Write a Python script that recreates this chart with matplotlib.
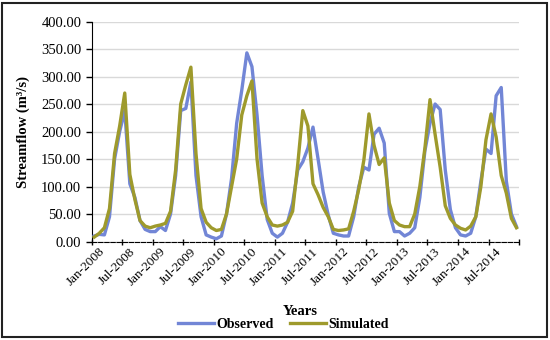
import numpy as np
import matplotlib.pyplot as plt
from matplotlib.transforms import ScaledTranslation
from matplotlib.patches import Rectangle

# monthly streamflow, Jan-2008 .. Dec-2014
observed = [10, 13, 12, 45, 150, 200, 238, 105, 80, 38, 22, 18,
            18, 27, 20, 50, 120, 238, 242, 290, 120, 45, 12, 8,
            5, 10, 50, 115, 215, 275, 343, 318, 230, 120, 40, 15,
            8, 15, 35, 70, 130, 145, 170, 208, 150, 90, 48, 15,
            12, 10, 10, 45, 100, 135, 130, 195, 206, 179, 51, 18,
            18, 10, 15, 25, 80, 165, 215, 250, 240, 130, 58, 25,
            12, 10, 15, 45, 110, 168, 160, 265, 280, 110, 50, 27]
simulated = [8, 15, 25, 60, 160, 210, 270, 122, 76, 38, 28, 25,
             28, 30, 33, 55, 130, 250, 285, 317, 160, 60, 35, 25,
             20, 22, 50, 100, 150, 230, 265, 292, 150, 70, 45, 30,
             28, 30, 35, 55, 140, 238, 210, 105, 85, 62, 45, 22,
             20, 21, 23, 55, 95, 148, 232, 175, 140, 152, 70, 38,
             30, 27, 27, 50, 100, 170, 258, 195, 135, 65, 42, 30,
             24, 21, 28, 45, 100, 185, 232, 190, 120, 88, 42, 25]
tick_labels = ["Jan-2008", "Jul-2008", "Jan-2009", "Jul-2009", "Jan-2010",
               "Jul-2010", "Jan-2011", "Jul-2011", "Jan-2012", "Jul-2012",
               "Jan-2013", "Jul-2013", "Jan-2014", "Jul-2014"]

plt.rcParams['font.family'] = ['Liberation Serif', 'DejaVu Serif']

fig = plt.figure(figsize=(5.5, 3.4), dpi=100)
ax = fig.add_axes([0.1667, 0.2897, 0.777, 0.647])

n = len(observed)
x = np.arange(n) + 0.5
ax.plot(x, observed, color='#7286D6', lw=2.4, label='Observed', zorder=3)
ax.plot(x, simulated, color='#9E9A2C', lw=2.4, label='Simulated', zorder=4)

ax.set_xlim(0, n)
ax.set_ylim(0, 400)
ax.set_yticks(np.arange(0, 401, 50))
ax.set_yticklabels(['%.2f' % v for v in np.arange(0, 401, 50)], fontsize=10.5)
ax.yaxis.grid(True, color='#D9D9D9', lw=1)
ax.set_axisbelow(True)

ax.set_xticks(np.arange(0, n + 1, 6))
ax.set_xticklabels([])
ax.set_xticks(np.arange(0, n, 6) + 0.5, minor=True)
ax.set_xticklabels(tick_labels, minor=True, rotation=45, ha='right',
                   va='center', rotation_mode='anchor', fontsize=9.5)
ax.tick_params(axis='x', which='minor', length=0, pad=6)
ax.tick_params(axis='x', which='major', length=4, direction='inout', width=1)
ax.tick_params(axis='y', length=4, width=1)
shift = ScaledTranslation(6 / 72, 0, fig.dpi_scale_trans)
for lab in ax.get_xticklabels(minor=True):
    lab.set_transform(lab.get_transform() + shift)

for s in ['top', 'right']:
    ax.spines[s].set_visible(False)
ax.spines['left'].set_color('black')
ax.spines['bottom'].set_color('black')
ax.spines['bottom'].set_linestyle((0, (4, 1.5)))

ax.set_ylabel('Streamflow (m³/s)', fontsize=10.5, fontweight='bold', labelpad=8)
fig.text(0.545, 0.085, 'Years', ha='center', va='center', fontsize=10.5, fontweight='bold')

fig.legend(loc='center', bbox_to_anchor=(0.515, 0.045), ncol=2, frameon=False,
           prop={'weight': 'bold', 'size': 10}, handlelength=2.6,
           handletextpad=0.15, columnspacing=1.2)

fig.patches.append(Rectangle((0.004, 0.01), 0.991, 0.98, transform=fig.transFigure,
                             fill=False, edgecolor='#222222', lw=1.5))

fig.savefig('out.png', dpi=100)
